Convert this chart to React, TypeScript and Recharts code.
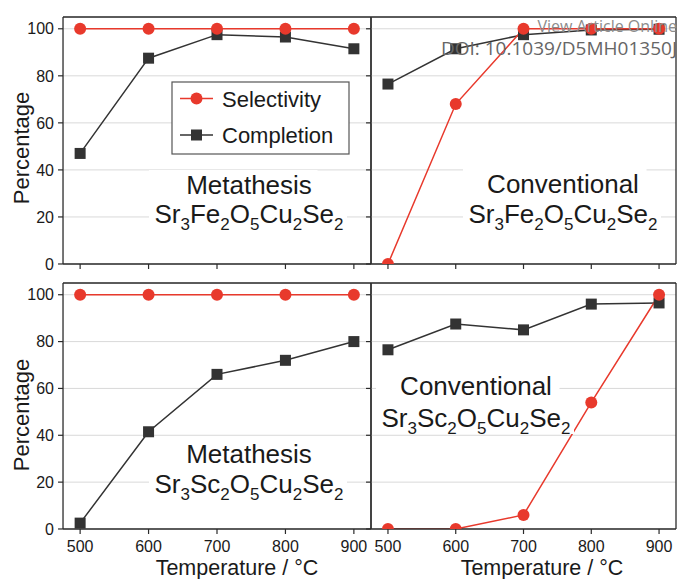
import { CartesianGrid, Line, LineChart, XAxis, YAxis } from 'recharts';

// x axis: reaction temperature, °C
const temperatures = [500, 600, 700, 800, 900];
const xMinorTicks = [550, 650, 750, 850];
const yMajorTicks = [0, 20, 40, 60, 80, 100];
const yMinorTicks = [10, 30, 50, 70, 90];

// Sr3Fe2O5Cu2Se2
const feMetathesisSelectivity = [100, 100, 100, 100, 100];
const feMetathesisCompletion = [47, 87.5, 97.5, 96.5, 91.5];
const feConventionalSelectivity = [0, 68, 100, 100, 100];
const feConventionalCompletion = [76.5, 91.5, 97.5, 99.5, 99.8];

// Sr3Sc2O5Cu2Se2
const scMetathesisSelectivity = [100, 100, 100, 100, 100];
const scMetathesisCompletion = [2.5, 41.5, 66, 72, 80];
const scConventionalSelectivity = [0, 0, 6, 54, 100];
const scConventionalCompletion = [76.5, 87.5, 85, 96, 96.5];

const seriesNames = ['Selectivity', 'Completion'];
const feFormula = [['Sr', '3'], ['Fe', '2'], ['O', '5'], ['Cu', '2'], ['Se', '2']];
const scFormula = [['Sr', '3'], ['Sc', '2'], ['O', '5'], ['Cu', '2'], ['Se', '2']];

const RED = '#e8392c';
const DARK = '#333333';
const FRAME = '#2b2b2b';
const GRID = '#d9d9d9';
const FONT = '"Liberation Sans", Arial, sans-serif';
const PAD = { top: 12, right: 12, bottom: 50, left: 50 };
// axes need a non-zero size to be drawn; keep it tiny so they don't push the plot area
const THIN = 0.01;

const noLabel = () => '';

function Square(props: any) {
  const { cx, cy, index } = props;
  if (cx == null || cy == null) return null;
  return <rect key={`sq-${index}`} x={cx - 5.5} y={cy - 5.5} width={11} height={11} fill={DARK} />;
}

type Box = { x: number; y: number; w: number; h: number };

function Panel({
  selectivity,
  completion,
  box,
  xLabels,
  yLabels,
  rightInside,
}: {
  selectivity: number[];
  completion: number[];
  box: Box;
  xLabels: boolean;
  yLabels: boolean;
  rightInside: boolean;
}) {
  const data = temperatures.map((t, i) => ({
    t,
    [seriesNames[0]]: selectivity[i],
    [seriesNames[1]]: completion[i],
  }));
  const tickStyle = { fontSize: 16, fill: '#1a1a1a', fontFamily: FONT };
  const axisLine = { stroke: FRAME, strokeWidth: 1.3 };
  const tickLine = { stroke: FRAME, strokeWidth: 1.2 };
  const xDomain: [number, number] = [475, 925];
  const yDomain: [number, number] = [0, 105];

  return (
    <div style={{ position: 'absolute', left: box.x - PAD.left, top: box.y - PAD.top }}>
      <LineChart
        width={box.w + PAD.left + PAD.right}
        height={box.h + PAD.top + PAD.bottom}
        data={data}
        margin={PAD}
      >
        <CartesianGrid xAxisId="b" yAxisId="l" vertical={false} stroke={GRID} />
        <XAxis
          xAxisId="b"
          dataKey="t"
          type="number"
          domain={xDomain}
          ticks={temperatures}
          interval={0}
          height={THIN}
          allowDataOverflow
          tickSize={5}
          tickMargin={7}
          axisLine={axisLine}
          tickLine={tickLine}
          tick={tickStyle}
          tickFormatter={xLabels ? undefined : noLabel}
        />
        <XAxis xAxisId="bm" type="number" domain={xDomain} ticks={xMinorTicks} interval={0} height={THIN}
          tickSize={3} axisLine={false} tickLine={tickLine} tickFormatter={noLabel} />
        <XAxis xAxisId="t" orientation="top" type="number" domain={xDomain} ticks={temperatures} interval={0}
          height={THIN} tickSize={5} axisLine={axisLine} tickLine={tickLine} tickFormatter={noLabel} />
        <XAxis xAxisId="tm" orientation="top" type="number" domain={xDomain} ticks={xMinorTicks} interval={0}
          height={THIN} tickSize={3} axisLine={false} tickLine={tickLine} tickFormatter={noLabel} />
        <YAxis
          yAxisId="l"
          type="number"
          domain={yDomain}
          ticks={yMajorTicks}
          interval={0}
          width={THIN}
          allowDataOverflow
          tickSize={5}
          tickMargin={4}
          axisLine={axisLine}
          tickLine={tickLine}
          tick={tickStyle}
          tickFormatter={yLabels ? undefined : noLabel}
        />
        <YAxis yAxisId="lm" type="number" domain={yDomain} ticks={yMinorTicks} interval={0} width={THIN}
          tickSize={3} axisLine={false} tickLine={tickLine} tickFormatter={noLabel} />
        <YAxis yAxisId="r" orientation="right" mirror={rightInside} type="number" domain={yDomain}
          ticks={yMajorTicks} interval={0} width={THIN} tickSize={5} axisLine={axisLine} tickLine={tickLine}
          tickFormatter={noLabel} />
        <YAxis yAxisId="rm" orientation="right" mirror={rightInside} type="number" domain={yDomain}
          ticks={yMinorTicks} interval={0} width={THIN} tickSize={3} axisLine={false} tickLine={tickLine}
          tickFormatter={noLabel} />
        <Line
          xAxisId="b"
          yAxisId="l"
          dataKey={seriesNames[1]}
          stroke={DARK}
          strokeWidth={1.5}
          dot={Square}
          activeDot={false}
          isAnimationActive={false}
        />
        <Line
          xAxisId="b"
          yAxisId="l"
          dataKey={seriesNames[0]}
          stroke={RED}
          strokeWidth={1.5}
          dot={{ r: 6, fill: RED, stroke: RED, strokeWidth: 0 }}
          activeDot={false}
          isAnimationActive={false}
        />
      </LineChart>
    </div>
  );
}

// chemical formula with subscripts, centred on x
function Formula({ parts, x, y }: { parts: string[][]; x: number; y: number }) {
  return (
    <text x={x} y={y} textAnchor="middle" fontSize={26}>
      {parts.map(([el, n], i) => [
        <tspan key={`e${i}`} dy={i === 0 ? 0 : -7}>{el}</tspan>,
        <tspan key={`n${i}`} fontSize={17} dy={7}>{n}</tspan>,
      ])}
    </text>
  );
}

function Annotation({ title, parts, cx, base1, base2, titleW }: {
  title: string; parts: string[][]; cx: number; base1: number; base2: number; titleW: number;
}) {
  const formulaW = 194;
  const left = cx - Math.max(titleW, formulaW) / 2 - 3;
  return (
    <g>
      <rect x={left} y={base1 - 24} width={cx + titleW / 2 + 2 - left} height={30} fill="#fff" />
      <rect x={left} y={base2 - 24} width={cx + formulaW / 2 + 1 - left} height={31} fill="#fff" />
      <text x={cx} y={base1} textAnchor="middle" fontSize={26}>{title}</text>
      <Formula parts={parts} x={cx} y={base2} />
    </g>
  );
}

export default function App() {
  const tl: Box = { x: 63, y: 17, w: 308, h: 247 };
  const tr: Box = { x: 371, y: 17, w: 305, h: 247 };
  const bl: Box = { x: 63, y: 283, w: 308, h: 246 };
  const br: Box = { x: 371, y: 283, w: 305, h: 246 };

  return (
    <div style={{ position: 'absolute', left: 0, top: 0, width: 678, height: 579, background: '#fff', overflow: 'hidden', fontFamily: FONT }}>
      <Panel selectivity={feMetathesisSelectivity} completion={feMetathesisCompletion} box={tl}
        xLabels={false} yLabels rightInside={false} />
      <Panel selectivity={feConventionalSelectivity} completion={feConventionalCompletion} box={tr}
        xLabels={false} yLabels={false} rightInside />
      <Panel selectivity={scMetathesisSelectivity} completion={scMetathesisCompletion} box={bl}
        xLabels yLabels rightInside={false} />
      <Panel selectivity={scConventionalSelectivity} completion={scConventionalCompletion} box={br}
        xLabels yLabels={false} rightInside />

      <svg width={678} height={579} style={{ position: 'absolute', left: 0, top: 0, pointerEvents: 'none' }}
        fontFamily={FONT} fill="#1a1a1a">
        {/* legend */}
        <rect x={172} y={82} width={177} height={72} fill="#fff" stroke="#555" strokeWidth={1.2} />
        <line x1={180} x2={213} y1={98.5} y2={98.5} stroke={RED} strokeWidth={1.5} />
        <circle cx={196.5} cy={98.5} r={6} fill={RED} />
        <text x={222} y={106.5} fontSize={22}>{seriesNames[0]}</text>
        <line x1={180} x2={213} y1={135} y2={135} stroke={DARK} strokeWidth={1.5} />
        <rect x={191} y={129.5} width={11} height={11} fill={DARK} />
        <text x={222} y={143} fontSize={22}>{seriesNames[1]}</text>

        <Annotation title="Metathesis" parts={feFormula} cx={249} base1={194} base2={223} titleW={133} />
        <Annotation title="Conventional" parts={feFormula} cx={563} base1={193} base2={223} titleW={163} />
        <Annotation title="Metathesis" parts={scFormula} cx={249} base1={463} base2={493} titleW={133} />
        <Annotation title="Conventional" parts={scFormula} cx={476} base1={395} base2={427} titleW={163} />

        {/* axis titles */}
        <text x={29} y={148} transform="rotate(-90 29 148)" textAnchor="middle" fontSize={22}>Percentage</text>
        <text x={29} y={415} transform="rotate(-90 29 415)" textAnchor="middle" fontSize={22}>Percentage</text>
        <text x={237} y={574.5} textAnchor="middle" fontSize={21.5}>Temperature / °C</text>
        <text x={542} y={574.5} textAnchor="middle" fontSize={21.5}>Temperature / °C</text>

        {/* publisher watermark */}
        <text x={677} y={32} textAnchor="end" fontSize={16} fontFamily="'Open Sans', sans-serif" fill="#8c8c8c">
          View Article Online
        </text>
        <text x={677} y={55} textAnchor="end" fontSize={19} fontFamily="'Open Sans', sans-serif" fill="#666">
          DOI: 10.1039/D5MH01350J
        </text>
      </svg>
    </div>
  );
}
